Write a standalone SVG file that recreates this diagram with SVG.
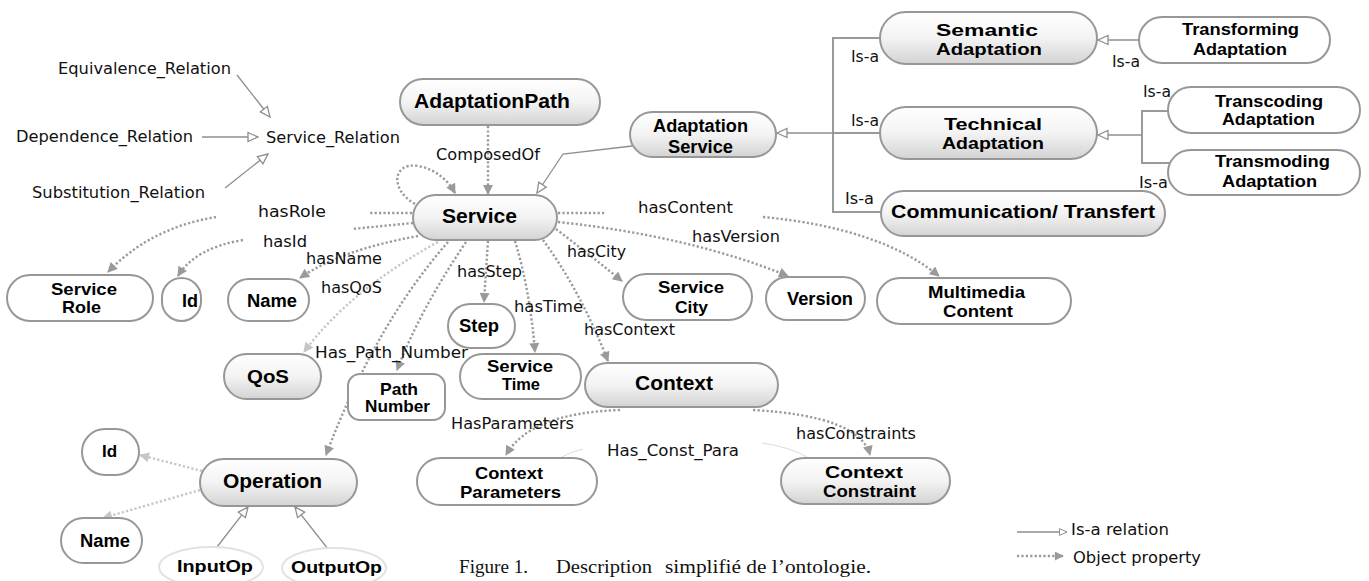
<svg xmlns="http://www.w3.org/2000/svg" width="1369" height="581" viewBox="0 0 1369 581">
<style>
.n{stroke:#979797;stroke-width:2}
.w{fill:#fff}
.g{fill:url(#grad)}
.t{font-family:"Liberation Sans",Arial,sans-serif;font-weight:bold;fill:#000;text-anchor:middle}
.l{font-family:"DejaVu Sans","Liberation Sans",sans-serif;font-size:15.5px;fill:#111}
.cap{font-family:"Liberation Serif","Times New Roman",serif;font-size:19px;fill:#111}
.d{fill:none;stroke:#9a9a9a;stroke-width:2.4;stroke-dasharray:2.2 2.2}
.dl{fill:none;stroke:#c6c6c6;stroke-width:2.4;stroke-dasharray:2.2 2.2}
.s{fill:none;stroke:#8e8e8e;stroke-width:1.3}
.b{fill:none;stroke:#9a9a9a;stroke-width:2}
.f{fill:none;stroke:#dcdcdc;stroke-width:1}
</style>
<defs>
<linearGradient id="grad" x1="0" y1="0" x2="0" y2="1">
<stop offset="0" stop-color="#ffffff"/>
<stop offset="0.5" stop-color="#f3f3f3"/>
<stop offset="1" stop-color="#d3d3d3"/>
</linearGradient>
<marker id="af" viewBox="0 0 10 10" refX="9" refY="5" markerWidth="12" markerHeight="10" markerUnits="userSpaceOnUse" orient="auto">
<path d="M0,0 L10,5 L0,10 z" fill="#9a9a9a"/>
</marker>
<marker id="afl" viewBox="0 0 10 10" refX="9" refY="5" markerWidth="12" markerHeight="10" markerUnits="userSpaceOnUse" orient="auto">
<path d="M0,0 L10,5 L0,10 z" fill="#c6c6c6"/>
</marker>
<marker id="ah" viewBox="0 0 12 12" refX="11" refY="6" markerWidth="12" markerHeight="12" markerUnits="userSpaceOnUse" orient="auto">
<path d="M1,1.5 L11,6 L1,10.5 z" fill="#fff" stroke="#8e8e8e" stroke-width="1.3"/>
</marker>
<marker id="ahs" viewBox="0 0 12 12" refX="11" refY="6" markerWidth="9" markerHeight="9" markerUnits="userSpaceOnUse" orient="auto">
<path d="M1,1.5 L11,6 L1,10.5 z" fill="#fff" stroke="#8e8e8e" stroke-width="1.3"/>
</marker>
<marker id="afs" viewBox="0 0 10 10" refX="9" refY="5" markerWidth="11" markerHeight="9" markerUnits="userSpaceOnUse" orient="auto">
<path d="M0,0 L10,5 L0,10 z" fill="#9a9a9a"/>
</marker>
</defs>
<rect width="1369" height="581" fill="#fff"/>

<g id="connectors">
<path class="d" d="M488,126 L488,194" marker-end="url(#af)"/>
<path class="d" d="M415,204 C390,190 392,162 418,166 C435,169 448,180 455,193" marker-end="url(#af)"/>
<path class="d" d="M412,213 L370,213"/>
<path class="d" d="M216,217 Q150,228 108,272" marker-end="url(#af)"/>
<path class="d" d="M413,223 L352,229"/>
<path class="d" d="M243,240 Q195,248 178,276" marker-end="url(#af)"/>
<path class="d" d="M418,236 Q340,250 300,278" marker-end="url(#af)"/>
<path class="dl" d="M438,242 Q350,290 304,352" marker-end="url(#afl)"/>
<path class="d" d="M448,242 Q375,325 326,455" marker-end="url(#af)"/>
<path class="d" d="M466,242 Q420,310 397,370" marker-end="url(#af)"/>
<path class="d" d="M488,241 L484,302" marker-end="url(#af)"/>
<path class="d" d="M515,241 Q530,290 535,352" marker-end="url(#af)"/>
<path class="d" d="M543,240 Q580,290 608,361" marker-end="url(#af)"/>
<path class="d" d="M556,229 Q590,255 622,281" marker-end="url(#af)"/>
<path class="d" d="M558,222 Q690,236 788,276" marker-end="url(#af)"/>
<path class="d" d="M558,213 L606,213"/>
<path class="d" d="M763,217 Q880,228 939,276" marker-end="url(#af)"/>
<path class="d" d="M620,410 Q530,413 506,455" marker-end="url(#af)"/>
<path class="d" d="M753,410 Q860,416 870,455" marker-end="url(#af)"/>
<path class="dl" d="M202,471 L140,455" marker-end="url(#afl)"/>
<path class="dl" d="M200,490 L103,518" marker-end="url(#afl)"/>
<path class="f" d="M560,458 Q570,452 583,449"/>
<path class="f" d="M762,443 Q790,447 807,457"/>
<path class="s" d="M237,75 L270,117" marker-end="url(#ah)"/>
<path class="s" d="M202,137 L258,137" marker-end="url(#ah)"/>
<path class="s" d="M225,188 L268,154" marker-end="url(#ah)"/>
<path class="s" d="M632,146 L563,154 L537,193" marker-end="url(#ah)"/>
<path class="b" d="M880,38 L833,38 L833,212 L881,212 M880,133 L833,133"/>
<path class="s" d="M833,133 L777,133" stroke-width="2" marker-end="url(#ah)"/>
<path class="s" d="M1139,40 L1098,40" stroke-width="2" marker-end="url(#ah)"/>
<path class="b" d="M1168,111 L1142,111 L1142,163 L1171,163"/>
<path class="s" d="M1142,135 L1098,135" stroke-width="2" marker-end="url(#ah)"/>
<path class="s" d="M217,547 L248,507" marker-end="url(#ah)"/>
<path class="s" d="M328,549 L295,507" marker-end="url(#ah)"/>
<path class="s" d="M1017,532 L1067,532" marker-end="url(#ahs)"/>
<path class="d" d="M1017,556 L1063,556" marker-end="url(#afs)"/>
</g>

<g id="relationLabels">
<text class="l" x="58" y="74" textLength="173" lengthAdjust="spacingAndGlyphs">Equivalence_Relation</text>
<text class="l" x="16" y="142" textLength="177" lengthAdjust="spacingAndGlyphs">Dependence_Relation</text>
<text class="l" x="266" y="143" textLength="134" lengthAdjust="spacingAndGlyphs">Service_Relation</text>
<text class="l" x="32" y="198" textLength="173" lengthAdjust="spacingAndGlyphs">Substitution_Relation</text>
<text class="l" x="258" y="217" textLength="68" lengthAdjust="spacingAndGlyphs">hasRole</text>
<text class="l" x="263" y="247" textLength="44" lengthAdjust="spacingAndGlyphs">hasId</text>
<text class="l" x="306" y="264" textLength="76" lengthAdjust="spacingAndGlyphs">hasName</text>
<text class="l" x="321" y="293" textLength="61" lengthAdjust="spacingAndGlyphs">hasQoS</text>
<text class="l" x="315" y="358" textLength="153" lengthAdjust="spacingAndGlyphs">Has_Path_Number</text>
<text class="l" x="436" y="160" textLength="104" lengthAdjust="spacingAndGlyphs">ComposedOf</text>
<text class="l" x="638" y="213" textLength="95" lengthAdjust="spacingAndGlyphs">hasContent</text>
<text class="l" x="692" y="242" textLength="88" lengthAdjust="spacingAndGlyphs">hasVersion</text>
<text class="l" x="567" y="257" textLength="59" lengthAdjust="spacingAndGlyphs">hasCity</text>
<text class="l" x="457" y="277" textLength="65" lengthAdjust="spacingAndGlyphs">hasStep</text>
<text class="l" x="514" y="312" textLength="69" lengthAdjust="spacingAndGlyphs">hasTime</text>
<text class="l" x="584" y="335" textLength="91" lengthAdjust="spacingAndGlyphs">hasContext</text>
<text class="l" x="451" y="429" textLength="123" lengthAdjust="spacingAndGlyphs">HasParameters</text>
<text class="l" x="607" y="456" textLength="132" lengthAdjust="spacingAndGlyphs">Has_Const_Para</text>
<text class="l" x="796" y="439" textLength="120" lengthAdjust="spacingAndGlyphs">hasConstraints</text>
<text class="l" x="851" y="62" textLength="28" lengthAdjust="spacingAndGlyphs">Is-a</text>
<text class="l" x="851" y="126" textLength="28" lengthAdjust="spacingAndGlyphs">Is-a</text>
<text class="l" x="845" y="204" textLength="29" lengthAdjust="spacingAndGlyphs">Is-a</text>
<text class="l" x="1112" y="67" textLength="28" lengthAdjust="spacingAndGlyphs">Is-a</text>
<text class="l" x="1143" y="97" textLength="28" lengthAdjust="spacingAndGlyphs">Is-a</text>
<text class="l" x="1139" y="188" textLength="29" lengthAdjust="spacingAndGlyphs">Is-a</text>
<text class="l" x="1071" y="535" textLength="98" lengthAdjust="spacingAndGlyphs">Is-a relation</text>
<text class="l" x="1073" y="563" textLength="128" lengthAdjust="spacingAndGlyphs">Object property</text>
<text class="cap" y="573"><tspan x="459" textLength="69" lengthAdjust="spacingAndGlyphs">Figure 1.</tspan><tspan x="556" textLength="96" lengthAdjust="spacingAndGlyphs">Description</tspan><tspan x="665" textLength="206" lengthAdjust="spacingAndGlyphs">simplifié de l’ontologie.</tspan></text>
</g>

<g id="node-AdaptationPath"><rect class="n g" x="400" y="79" width="200" height="46" rx="23"/><text class="t" x="492" y="108" font-size="21" textLength="156" lengthAdjust="spacingAndGlyphs">AdaptationPath</text></g>
<g id="node-AdaptationService"><rect class="n g" x="630" y="112" width="146" height="45" rx="22.5"/><text class="t" x="700.5" y="132" font-size="17.5" textLength="95" lengthAdjust="spacingAndGlyphs">Adaptation</text><text class="t" x="700.5" y="153" font-size="17.5" textLength="65" lengthAdjust="spacingAndGlyphs">Service</text></g>
<g id="node-SemanticAdaptation"><rect class="n g" x="880" y="12" width="217" height="52" rx="26"/><text class="t" x="987" y="36" font-size="16.5" textLength="102" lengthAdjust="spacingAndGlyphs">Semantic</text><text class="t" x="989" y="55" font-size="16.5" textLength="106" lengthAdjust="spacingAndGlyphs">Adaptation</text></g>
<g id="node-TransformingAdaptation"><rect class="n w" x="1139" y="17" width="191" height="46" rx="23"/><text class="t" x="1240.5" y="35" font-size="16" textLength="117" lengthAdjust="spacingAndGlyphs">Transforming</text><text class="t" x="1240" y="55" font-size="16" textLength="94" lengthAdjust="spacingAndGlyphs">Adaptation</text></g>
<g id="node-TechnicalAdaptation"><rect class="n g" x="880" y="107" width="217" height="52" rx="26"/><text class="t" x="993" y="130" font-size="16.5" textLength="98" lengthAdjust="spacingAndGlyphs">Technical</text><text class="t" x="993" y="149" font-size="16.5" textLength="102" lengthAdjust="spacingAndGlyphs">Adaptation</text></g>
<g id="node-TranscodingAdaptation"><rect class="n w" x="1168" y="87" width="192" height="46" rx="23"/><text class="t" x="1269" y="107" font-size="16" textLength="108" lengthAdjust="spacingAndGlyphs">Transcoding</text><text class="t" x="1268.5" y="125" font-size="16" textLength="93" lengthAdjust="spacingAndGlyphs">Adaptation</text></g>
<g id="node-TransmodingAdaptation"><rect class="n w" x="1168" y="150" width="192" height="45" rx="22.5"/><text class="t" x="1272.5" y="167" font-size="16" textLength="115" lengthAdjust="spacingAndGlyphs">Transmoding</text><text class="t" x="1269.5" y="187" font-size="16" textLength="95" lengthAdjust="spacingAndGlyphs">Adaptation</text></g>
<g id="node-Communication"><rect class="n g" x="881" y="191" width="284" height="45" rx="22.5"/><text class="t" x="1023" y="218" font-size="19" textLength="264" lengthAdjust="spacingAndGlyphs">Communication/ Transfert</text></g>
<g id="node-Service"><rect class="n g" x="413" y="195" width="144" height="45" rx="22.5"/><text class="t" x="479.5" y="223" font-size="21" textLength="75" lengthAdjust="spacingAndGlyphs">Service</text></g>
<g id="node-ServiceRole"><rect class="n w" x="7" y="275" width="146" height="46" rx="23"/><text class="t" x="84" y="295" font-size="17" textLength="66" lengthAdjust="spacingAndGlyphs">Service</text><text class="t" x="81.5" y="313" font-size="17" textLength="39" lengthAdjust="spacingAndGlyphs">Role</text></g>
<g id="node-Id"><rect class="n w" x="162" y="278" width="39" height="43" rx="19.5"/><text class="t" x="190" y="307" font-size="18">Id</text></g>
<g id="node-Name"><rect class="n w" x="228" y="279" width="81" height="42" rx="21"/><text class="t" x="272" y="307" font-size="18" textLength="50" lengthAdjust="spacingAndGlyphs">Name</text></g>
<g id="node-QoS"><rect class="n g" x="224" y="354" width="97" height="45" rx="22.5"/><text class="t" x="268" y="383" font-size="19" textLength="42" lengthAdjust="spacingAndGlyphs">QoS</text></g>
<g id="node-PathNumber"><rect class="n w" x="348" y="374" width="97" height="46" rx="12"/><text class="t" x="399" y="395" font-size="17" textLength="38" lengthAdjust="spacingAndGlyphs">Path</text><text class="t" x="397.5" y="412" font-size="17" textLength="65" lengthAdjust="spacingAndGlyphs">Number</text></g>
<g id="node-Step"><rect class="n w" x="448" y="304" width="67" height="44" rx="22"/><text class="t" x="479" y="332" font-size="18" textLength="40" lengthAdjust="spacingAndGlyphs">Step</text></g>
<g id="node-ServiceTime"><rect class="n w" x="460" y="354" width="121" height="45" rx="22.5"/><text class="t" x="520" y="372" font-size="17" textLength="66" lengthAdjust="spacingAndGlyphs">Service</text><text class="t" x="521" y="390" font-size="17" textLength="38" lengthAdjust="spacingAndGlyphs">Time</text></g>
<g id="node-Context"><rect class="n g" x="585" y="363" width="193" height="44" rx="22"/><text class="t" x="674" y="390" font-size="20" textLength="78" lengthAdjust="spacingAndGlyphs">Context</text></g>
<g id="node-ServiceCity"><rect class="n w" x="623" y="274" width="129" height="46" rx="23"/><text class="t" x="691" y="293" font-size="17" textLength="66" lengthAdjust="spacingAndGlyphs">Service</text><text class="t" x="691.5" y="313" font-size="17" textLength="33" lengthAdjust="spacingAndGlyphs">City</text></g>
<g id="node-Version"><rect class="n w" x="766" y="277" width="99" height="43" rx="21.5"/><text class="t" x="820" y="305" font-size="18" textLength="66" lengthAdjust="spacingAndGlyphs">Version</text></g>
<g id="node-MultimediaContent"><rect class="n w" x="877" y="278" width="194" height="46" rx="23"/><text class="t" x="976.5" y="298" font-size="17" textLength="97" lengthAdjust="spacingAndGlyphs">Multimedia</text><text class="t" x="978" y="317" font-size="17" textLength="70" lengthAdjust="spacingAndGlyphs">Content</text></g>
<g id="node-ContextParameters"><rect class="n w" x="417" y="458" width="180" height="47" rx="23.5"/><text class="t" x="509" y="479" font-size="17" textLength="68" lengthAdjust="spacingAndGlyphs">Context</text><text class="t" x="510.5" y="498" font-size="17" textLength="101" lengthAdjust="spacingAndGlyphs">Parameters</text></g>
<g id="node-ContextConstraint"><rect class="n g" x="781" y="458" width="169" height="46" rx="23"/><text class="t" x="864" y="478" font-size="17" textLength="78" lengthAdjust="spacingAndGlyphs">Context</text><text class="t" x="869.5" y="497" font-size="17" textLength="93" lengthAdjust="spacingAndGlyphs">Constraint</text></g>
<g id="node-IdOp"><rect class="n w" x="82" y="429" width="57" height="46" rx="23"/><text class="t" x="109.5" y="457" font-size="17">Id</text></g>
<g id="node-Operation"><rect class="n g" x="200" y="459" width="157" height="47" rx="23.5"/><text class="t" x="272.5" y="488" font-size="20" textLength="99" lengthAdjust="spacingAndGlyphs">Operation</text></g>
<g id="node-NameOp"><rect class="n w" x="61" y="518" width="81" height="45" rx="22.5"/><text class="t" x="105" y="547" font-size="18" textLength="50" lengthAdjust="spacingAndGlyphs">Name</text></g>
<g id="node-InputOp"><ellipse cx="211" cy="567" rx="52" ry="20" fill="#fff" stroke="#e2e2e2" stroke-width="2"/><text class="t" x="215" y="572" font-size="17" textLength="76" lengthAdjust="spacingAndGlyphs">InputOp</text></g>
<g id="node-OutputOp"><ellipse cx="334" cy="568" rx="52" ry="20" fill="#fff" stroke="#e2e2e2" stroke-width="2"/><text class="t" x="336.5" y="573" font-size="17" textLength="91" lengthAdjust="spacingAndGlyphs">OutputOp</text></g>
</svg>
